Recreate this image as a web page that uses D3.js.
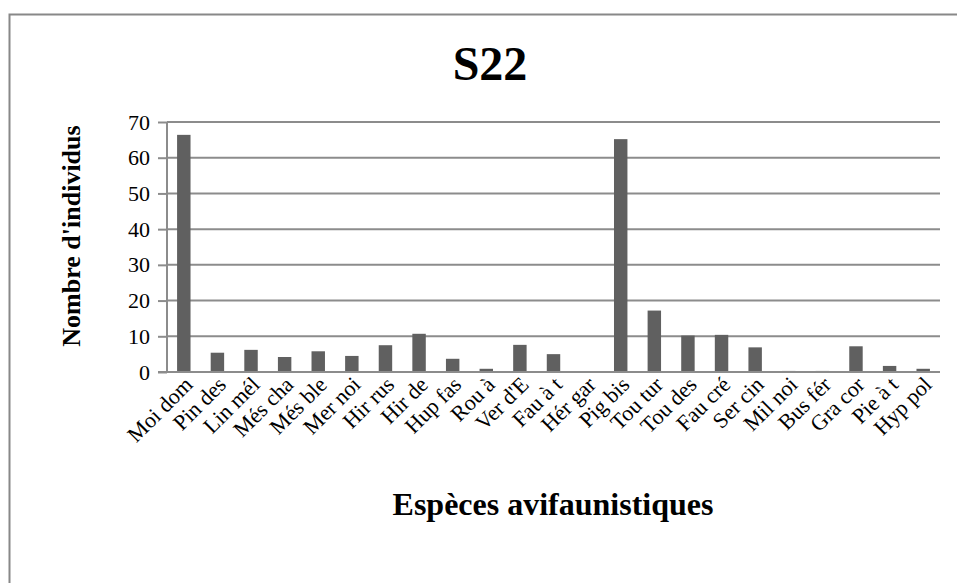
<!DOCTYPE html>
<html><head><meta charset="utf-8">
<script src="https://cdn.jsdelivr.net/npm/d3@7"></script>
<style>body{margin:0;background:#fff}svg{display:block}</style>
</head><body>
<svg id="c" width="957" height="583"></svg>
<script>
const categories = ["Moi dom","Pin des","Lin mél","Més cha","Més ble","Mer noi","Hir rus","Hir de","Hup fas","Rou à","Ver d'E","Fau à t","Hér gar","Pig bis","Tou tur","Tou des","Fau cré","Ser cin","Mil noi","Bus fér","Gra cor","Pie à t","Hyp pol"];
const values = [66.4,5.4,6.2,4.2,5.8,4.5,7.5,10.7,3.7,0.9,7.6,5.0,0,65.2,17.2,10.2,10.4,6.9,0.3,0.3,7.2,1.7,0.9];
const yTicks = [0,10,20,30,40,50,60,70];
const title = "S22";
const xTitle = "Espèces avifaunistiques";
const yTitle = "Nombre d'individus";

const FONT = "Liberation Serif";
const svg = d3.select("#c");
svg.append("rect").attr("x",9.5).attr("y",14.5).attr("width",1000).attr("height",1000)
  .attr("fill","#fff").attr("stroke","#888").attr("stroke-width",2);

const L=167, R=940, T=122, B=372;
const x = d3.scaleBand().domain(categories).range([L,R]).paddingInner(0.6).paddingOuter(0.3);
const y = d3.scaleLinear().domain([0,70]).range([B,T]);

svg.append("g").selectAll("line").data(yTicks.filter(d=>d>0)).join("line")
  .attr("x1",L).attr("x2",R).attr("y1",d=>y(d)).attr("y2",d=>y(d))
  .attr("stroke","#8c8c8c").attr("stroke-width",2);

svg.append("g").selectAll("rect").data(values).join("rect")
  .attr("x",(d,i)=>x(categories[i])).attr("width",x.bandwidth())
  .attr("y",d=>y(d)).attr("height",d=>B-y(d))
  .attr("fill","#606060");

const ya = svg.append("g").attr("transform",`translate(${L},0)`)
  .call(d3.axisLeft(y).tickValues(yTicks).tickSize(9).tickPadding(8).tickFormat(d3.format("d")));
ya.attr("font-family",FONT).attr("font-size",22);
ya.select(".domain").attr("stroke","#8c8c8c").attr("stroke-width",2).attr("d",`M0,${T}V${B}`);
ya.selectAll(".tick line").attr("stroke","#8c8c8c").attr("stroke-width",2);
ya.selectAll(".tick text").attr("fill","#000");

const xa = svg.append("g").attr("transform",`translate(0,${B})`)
  .call(d3.axisBottom(x).tickSize(0).tickPadding(0));
xa.attr("font-family",FONT).attr("font-size",22);
xa.select(".domain").attr("stroke","#8c8c8c").attr("stroke-width",2).attr("d",`M${L-9},0H${R}`);
xa.selectAll(".tick text").attr("fill","#000")
  .attr("text-anchor","end").attr("dy",0)
  .attr("transform","translate(10,14) rotate(-45)");

svg.append("text").attr("x",490).attr("y",80).attr("text-anchor","middle").attr("font-family",FONT)
  .attr("font-size",48).attr("font-weight","bold").text(title);
svg.append("text").attr("x",553).attr("y",515).attr("text-anchor","middle").attr("font-family",FONT)
  .attr("font-size",32).attr("font-weight","bold").text(xTitle);
svg.append("text").attr("transform","translate(80,236) rotate(-90)").attr("text-anchor","middle").attr("font-family",FONT)
  .attr("font-size",26).attr("font-weight","bold").text(yTitle);
</script>
</body></html>
